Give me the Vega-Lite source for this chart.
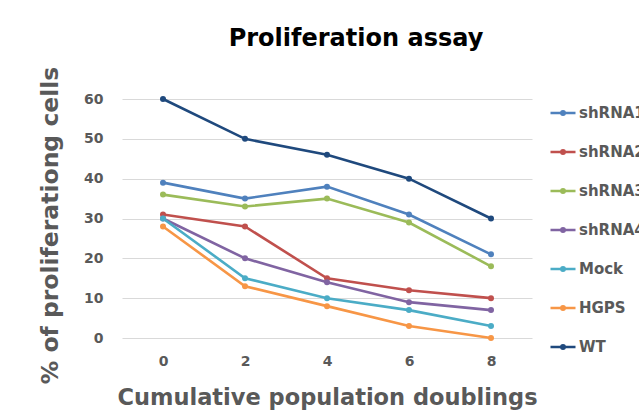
{
  "$schema": "https://vega.github.io/schema/vega-lite/v6.json",
  "autosize": {"type": "none"},
  "width": 410,
  "height": 239,
  "padding": {"left": 122, "top": 99, "right": 107, "bottom": 77},
  "background": "white",
  "title": {
    "text": "Proliferation assay",
    "font": "DejaVu Sans",
    "fontSize": 24,
    "fontWeight": "bold",
    "color": "#000000",
    "anchor": "middle",
    "dx": 29,
    "offset": 15
  },
  "data": {
    "values": [
      {"series": "shRNA1", "pd": 0, "pct": 39},
      {"series": "shRNA1", "pd": 2, "pct": 35},
      {"series": "shRNA1", "pd": 4, "pct": 38},
      {"series": "shRNA1", "pd": 6, "pct": 31},
      {"series": "shRNA1", "pd": 8, "pct": 21},
      {"series": "shRNA2", "pd": 0, "pct": 31},
      {"series": "shRNA2", "pd": 2, "pct": 28},
      {"series": "shRNA2", "pd": 4, "pct": 15},
      {"series": "shRNA2", "pd": 6, "pct": 12},
      {"series": "shRNA2", "pd": 8, "pct": 10},
      {"series": "shRNA3", "pd": 0, "pct": 36},
      {"series": "shRNA3", "pd": 2, "pct": 33},
      {"series": "shRNA3", "pd": 4, "pct": 35},
      {"series": "shRNA3", "pd": 6, "pct": 29},
      {"series": "shRNA3", "pd": 8, "pct": 18},
      {"series": "shRNA4", "pd": 0, "pct": 30},
      {"series": "shRNA4", "pd": 2, "pct": 20},
      {"series": "shRNA4", "pd": 4, "pct": 14},
      {"series": "shRNA4", "pd": 6, "pct": 9},
      {"series": "shRNA4", "pd": 8, "pct": 7},
      {"series": "Mock", "pd": 0, "pct": 30},
      {"series": "Mock", "pd": 2, "pct": 15},
      {"series": "Mock", "pd": 4, "pct": 10},
      {"series": "Mock", "pd": 6, "pct": 7},
      {"series": "Mock", "pd": 8, "pct": 3},
      {"series": "HGPS", "pd": 0, "pct": 28},
      {"series": "HGPS", "pd": 2, "pct": 13},
      {"series": "HGPS", "pd": 4, "pct": 8},
      {"series": "HGPS", "pd": 6, "pct": 3},
      {"series": "HGPS", "pd": 8, "pct": 0},
      {"series": "WT", "pd": 0, "pct": 60},
      {"series": "WT", "pd": 2, "pct": 50},
      {"series": "WT", "pd": 4, "pct": 46},
      {"series": "WT", "pd": 6, "pct": 40},
      {"series": "WT", "pd": 8, "pct": 30}
    ]
  },
  "mark": {
    "type": "line",
    "strokeWidth": 2.6,
    "point": {"filled": true, "size": 36}
  },
  "encoding": {
    "x": {
      "field": "pd",
      "type": "ordinal",
      "scale": {"type": "point", "padding": 0.5},
      "axis": {
        "title": "Cumulative population doublings",
        "labelAngle": 0,
        "ticks": false,
        "domain": false,
        "labelPadding": 16,
        "labelFont": "DejaVu Sans",
        "labelFontSize": 14,
        "labelFontWeight": "bold",
        "labelColor": "#595959",
        "titleFont": "DejaVu Sans",
        "titleFontSize": 22.5,
        "titleFontWeight": "bold",
        "titleColor": "#595959",
        "titlePadding": 18
      }
    },
    "y": {
      "field": "pct",
      "type": "quantitative",
      "scale": {"domain": [0, 60], "nice": false},
      "axis": {
        "title": "% of proliferationg cells",
        "values": [0, 10, 20, 30, 40, 50, 60],
        "ticks": false,
        "domain": false,
        "grid": true,
        "gridColor": "#d9d9d9",
        "gridWidth": 1,
        "labelPadding": 19,
        "labelFont": "DejaVu Sans",
        "labelFontSize": 14,
        "labelFontWeight": "bold",
        "labelColor": "#595959",
        "titleFont": "DejaVu Sans",
        "titleFontSize": 23.5,
        "titleFontWeight": "bold",
        "titleColor": "#595959",
        "titlePadding": 21,
        "titleY": 126
      }
    },
    "color": {
      "field": "series",
      "type": "nominal",
      "scale": {
        "domain": ["shRNA1", "shRNA2", "shRNA3", "shRNA4", "Mock", "HGPS", "WT"],
        "range": ["#4f81bd", "#c0504d", "#9bbb59", "#8064a2", "#4bacc6", "#f79646", "#1f497d"]
      },
      "legend": {
        "title": null,
        "orient": "none",
        "legendX": 427,
        "legendY": 0,
        "padding": 0,
        "symbolType": "M-1,0L1,0M-0.14,0a0.14,0.14 0 1,0 0.28,0a0.14,0.14 0 1,0 -0.28,0",
        "symbolSize": 625,
        "symbolStrokeWidth": 2.5,
        "labelOffset": 2,
        "rowPadding": 17,
        "labelFont": "DejaVu Sans",
        "labelFontSize": 15,
        "labelFontWeight": "bold",
        "labelColor": "#595959",
        "labelLimit": 200
      }
    }
  },
  "config": {
    "view": {"stroke": null}
  }
}
